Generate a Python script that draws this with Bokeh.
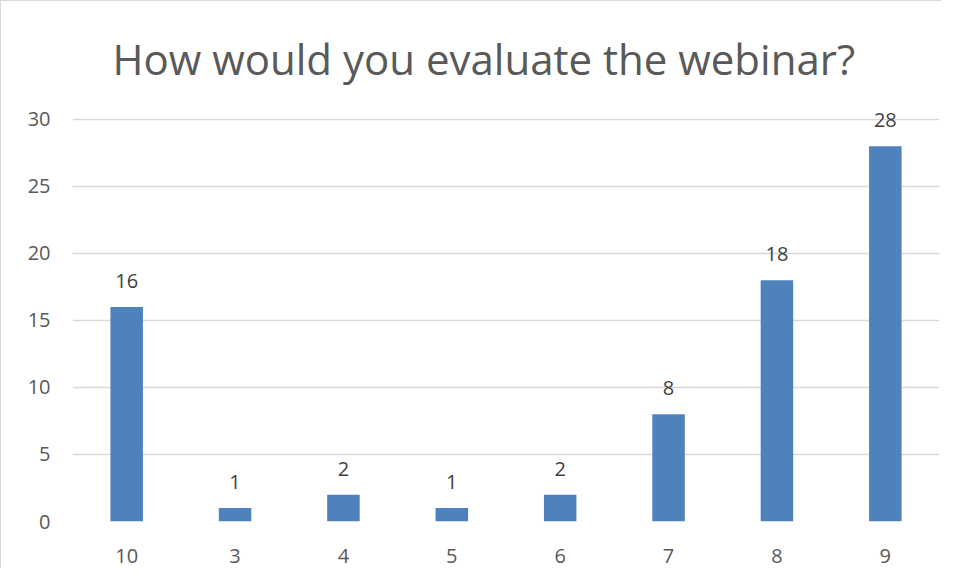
from bokeh.plotting import figure
from bokeh.models import ColumnDataSource, Title, LabelSet, SingleIntervalTicker
from bokeh.core.properties import value
from bokeh.embed import file_html
from bokeh.resources import INLINE

categories = ["10", "3", "4", "5", "6", "7", "8", "9"]
counts = [16, 1, 2, 1, 2, 8, 18, 28]
title_text = "How would you evaluate the webinar?"

FONT = "Open Sans"
TXT = "#595959"

src = ColumnDataSource(dict(cat=categories, val=counts, lbl=[str(v) for v in counts]))

p = figure(width=941, height=568, x_range=categories, y_range=(0, 32),
           output_backend="svg", toolbar_location=None,
           min_border_left=71, min_border_right=3, min_border_bottom=48, min_border_top=91)
p.title = None
t = Title(text=title_text, align="left", text_font=FONT, text_font_size="42px",
          text_color=TXT, text_font_style="normal", standoff=12, offset=40)
p.add_layout(t, "above")

p.vbar(x="cat", top="val", width=0.3, source=src, fill_color="#4F81BD", line_color=None)

labels = LabelSet(x="cat", y="val", text="lbl", source=src, text_align="center",
                  text_baseline="bottom", y_offset=19, text_font=value(FONT),
                  text_font_size=value("20px"), text_color="#404040")
p.add_layout(labels)

p.outline_line_color = None
p.background_fill_color = "white"
p.border_fill_color = "white"
p.xgrid.grid_line_color = None
p.ygrid.grid_line_color = "#d9d9d9"
p.ygrid.grid_line_width = 1.3
p.yaxis.ticker = SingleIntervalTicker(interval=5)

for ax in (p.xaxis[0], p.yaxis[0]):
    ax.axis_line_color = None
    ax.major_tick_line_color = None
    ax.minor_tick_line_color = None
    ax.major_label_text_font = FONT
    ax.major_label_text_font_size = "20px"
    ax.major_label_text_color = TXT
p.yaxis.major_label_standoff = 16
p.xaxis.major_label_standoff = 21

p.styles = {"border-left": "1.5px solid #d9d9d9", "border-top": "1.5px solid #d9d9d9"}

open("out.html", "w").write(file_html(p, INLINE))
